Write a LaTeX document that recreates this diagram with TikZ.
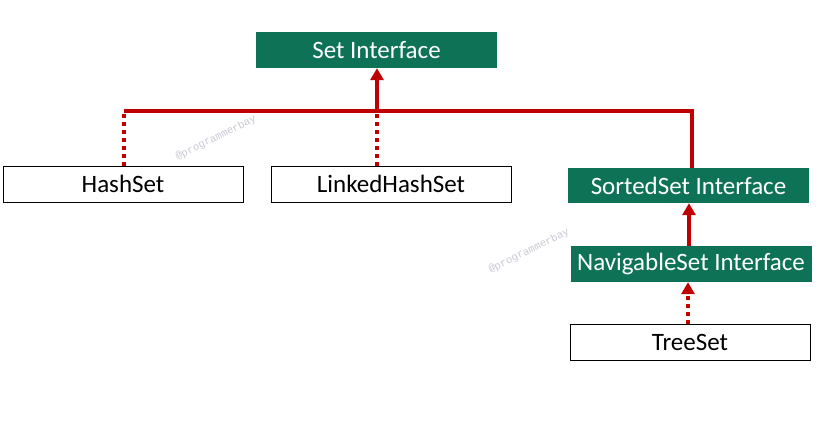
\documentclass[tikz,border=0pt]{standalone}
\usepackage{fontspec}
\setmainfont{Carlito}
\newfontfamily\wmfont{Liberation Mono}
\definecolor{setgreen}{RGB}{14,115,86}
\definecolor{linkred}{RGB}{192,0,0}
\definecolor{wmgray}{RGB}{200,202,212}
\usetikzlibrary{positioning,arrows.meta}
\tikzset{
  ifbox/.style={fill=setgreen,text=white,minimum width=241pt,minimum height=36pt,
                inner sep=0pt,font=\fontsize{25}{29}\selectfont},
  clsbox/.style={draw=black,line width=1pt,fill=white,minimum width=240pt,minimum height=36pt,
                 inner sep=0pt,font=\fontsize{25}{29}\selectfont},
  link/.style={linkred,line width=4pt},
  implink/.style={link,dash pattern=on 4pt off 4pt},
  arr/.style={-{Triangle[width=13pt,length=12pt]}},
  wmark/.style={text=wmgray,font=\wmfont\fontsize{10.5}{12}\selectfont,inner sep=0pt},
}
\begin{document}
\begin{tikzpicture}[x=1pt,y=-1pt]
  \useasboundingbox[fill=white] (0,0) rectangle (820,436);
  % watermarks
  \node[wmark,rotate=26] (wm1) at (216,138) {@programmerbay};
  \node[wmark,rotate=26] (wm2) at (529,251) {@programmerbay};
  % boxes
  \node[ifbox] (setif) at (376.5,50) {Set Interface};
  \node[clsbox] (hashset) at (123,184) {HashSet};
  \node[clsbox] (linked) at (391,184) {LinkedHashSet};
  \node[ifbox,minimum height=35pt] (sorted) at (688.5,185.5) {SortedSet Interface};
  \node[ifbox] (navig) at (691,264) {NavigableSet Interface};
  \node[clsbox] (treeset) at (690,342) {TreeSet};
  % bus line
  \coordinate (busL) at (124,111);
  \coordinate (busM) at (377,111);
  \coordinate (busR) at (692,111);
  \draw[link] (busL) -- (busR) -- (busR |- sorted.north);
  \draw[link,arr] (busM) -- (busM |- setif.south);
  \draw[implink] (busL |- hashset.north) -- (busL);
  \draw[implink] (busM |- linked.north) -- ([yshift=2pt]busM);
  \draw[link,arr] (689,246 |- navig.north) -- (689,246 |- sorted.south);
  \draw[implink,arr] (688,324 |- treeset.north) -- (688,324 |- navig.south);
\end{tikzpicture}
\end{document}
